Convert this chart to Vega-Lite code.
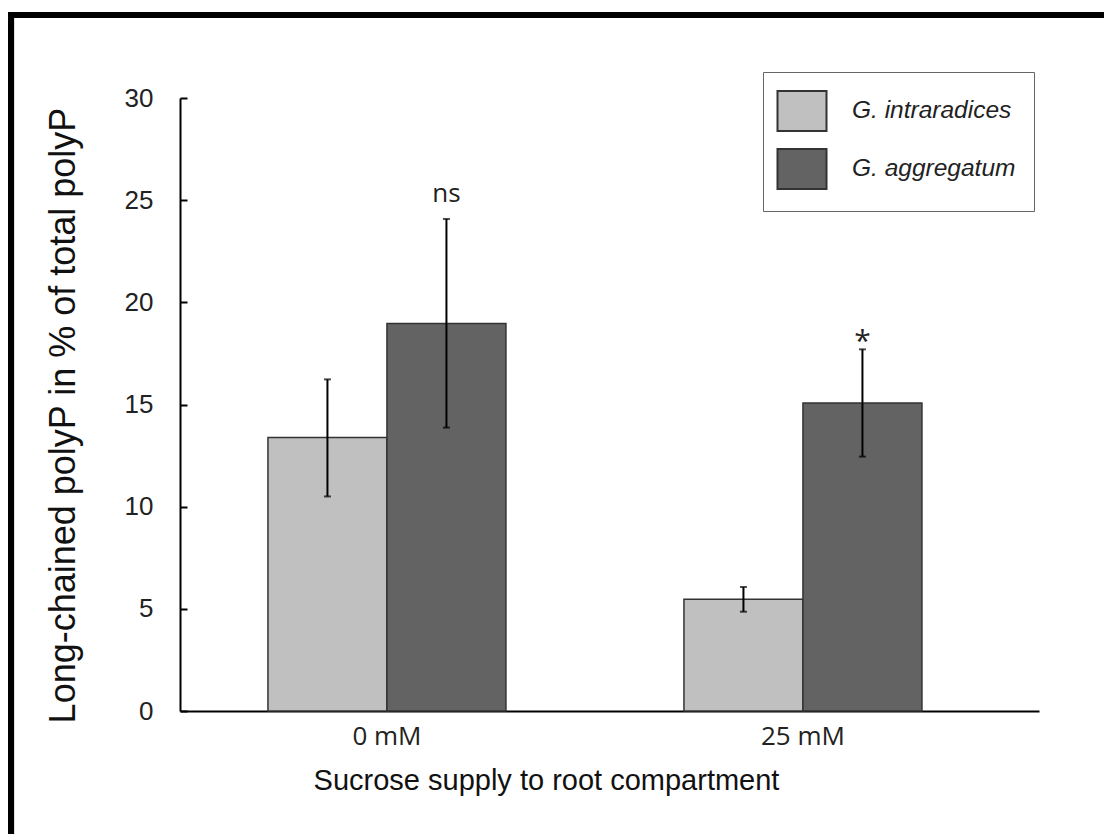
{
  "$schema": "https://vega.github.io/schema/vega-lite/v6.json",
  "width": 859,
  "height": 613,
  "autosize": {"type": "none"},
  "padding": {"left": 180, "top": 98, "right": 65, "bottom": 123},
  "background": "white",
  "config": {
    "view": {"stroke": null},
    "font": "Liberation Sans"
  },
  "data": {
    "values": [
      {"sucrose": "0 mM", "species": "G. intraradices", "mean": 13.38, "lo": 10.5, "hi": 16.23, "sig": ""},
      {"sucrose": "0 mM", "species": "G. aggregatum", "mean": 18.97, "lo": 13.87, "hi": 24.08, "sig": "ns"},
      {"sucrose": "25 mM", "species": "G. intraradices", "mean": 5.47, "lo": 4.86, "hi": 6.07, "sig": ""},
      {"sucrose": "25 mM", "species": "G. aggregatum", "mean": 15.07, "lo": 12.45, "hi": 17.7, "sig": "*"}
    ]
  },
  "layer": [
    {
      "layer": [
        {
          "mark": {"type": "bar", "stroke": "#333333", "strokeWidth": 1.5},
          "encoding": {
            "x": {
              "field": "sucrose", "type": "nominal", "sort": ["0 mM", "25 mM"],
              "scale": {"paddingInner": 0.4279, "paddingOuter": 0.2464, "align": 0.429},
              "title": "Sucrose supply to root compartment",
              "axis": {
                "ticks": false, "labelAngle": 0, "labelFont": "Open Sans", "labelFontSize": 26,
                "labelColor": "#222222", "labelPadding": 12, "domainColor": "black", "domainWidth": 2,
                "titleFont": "Liberation Sans", "titleFontSize": 29, "titleFontWeight": "normal",
                "titleColor": "#111111", "titleX": 366, "titlePadding": 17
              }
            },
            "xOffset": {
              "field": "species", "type": "nominal", "sort": ["G. intraradices", "G. aggregatum"],
              "scale": {"paddingInner": 0, "paddingOuter": 0}
            },
            "y": {
              "field": "mean", "type": "quantitative",
              "scale": {"domain": [0, 30], "nice": false},
              "title": "Long-chained polyP in % of total polyP",
              "axis": {
                "values": [0, 5, 10, 15, 20, 25, 30], "grid": false,
                "domainColor": "black", "domainWidth": 2, "tickColor": "black", "tickWidth": 2,
                "tickSize": -7, "labelPadding": 34, "labelFont": "Liberation Sans", "labelFontSize": 26,
                "labelColor": "#222222", "titleFont": "Liberation Sans", "titleFontSize": 36,
                "titleFontWeight": "normal", "titleColor": "#111111", "titlePadding": 42, "titleY": 317
              }
            },
            "color": {
              "field": "species", "type": "nominal",
              "scale": {"domain": ["G. intraradices", "G. aggregatum"], "range": ["#c0c0c0", "#636363"]},
              "legend": {
                "orient": "none", "legendX": 583, "legendY": -26, "title": null,
                "symbolType": "M-1.225,-1L1.225,-1L1.225,1L-1.225,1Z", "symbolSize": 1600,
                "symbolStrokeColor": "#333333", "symbolStrokeWidth": 2, "symbolOpacity": 1,
                "labelFont": "Liberation Sans", "labelFontStyle": "italic", "labelFontSize": 24.5,
                "labelColor": "#222222", "labelOffset": 29, "labelLimit": 400, "padding": 18, "rowPadding": 10,
                "strokeColor": "#666666", "fillColor": "white"
              }
            }
          }
        },
        {
          "mark": {"type": "rule", "color": "black", "strokeWidth": 2},
          "encoding": {
            "x": {"field": "sucrose", "type": "nominal", "sort": ["0 mM", "25 mM"]},
            "xOffset": {"field": "species", "type": "nominal", "sort": ["G. intraradices", "G. aggregatum"]},
            "y": {"field": "lo", "type": "quantitative"},
            "y2": {"field": "hi"}
          }
        },
        {
          "mark": {"type": "tick", "color": "black", "thickness": 2, "size": 7},
          "encoding": {
            "x": {"field": "sucrose", "type": "nominal", "sort": ["0 mM", "25 mM"]},
            "xOffset": {"field": "species", "type": "nominal", "sort": ["G. intraradices", "G. aggregatum"]},
            "y": {"field": "lo", "type": "quantitative"}
          }
        },
        {
          "mark": {"type": "tick", "color": "black", "thickness": 2, "size": 7},
          "encoding": {
            "x": {"field": "sucrose", "type": "nominal", "sort": ["0 mM", "25 mM"]},
            "xOffset": {"field": "species", "type": "nominal", "sort": ["G. intraradices", "G. aggregatum"]},
            "y": {"field": "hi", "type": "quantitative"}
          }
        },
        {
          "transform": [{"filter": "datum.sig == 'ns'"}],
          "mark": {"type": "text", "font": "Open Sans", "fontSize": 26, "color": "#222222", "baseline": "alphabetic", "dy": -17},
          "encoding": {
            "x": {"field": "sucrose", "type": "nominal", "sort": ["0 mM", "25 mM"]},
            "xOffset": {"field": "species", "type": "nominal", "sort": ["G. intraradices", "G. aggregatum"]},
            "y": {"field": "hi", "type": "quantitative"},
            "text": {"field": "sig"}
          }
        },
        {
          "transform": [{"filter": "datum.sig == '*'"}],
          "mark": {"type": "text", "font": "Open Sans", "fontSize": 30, "color": "#222222", "baseline": "alphabetic", "dy": 2},
          "encoding": {
            "x": {"field": "sucrose", "type": "nominal", "sort": ["0 mM", "25 mM"]},
            "xOffset": {"field": "species", "type": "nominal", "sort": ["G. intraradices", "G. aggregatum"]},
            "y": {"field": "hi", "type": "quantitative"},
            "text": {"field": "sig"}
          }
        }
      ]
    },
    {
      "layer": [
        {
          "mark": {"type": "rule", "color": "black", "strokeWidth": 6},
          "encoding": {
            "x": {"datum": -0.2, "type": "quantitative", "scale": {"domain": [0, 1], "nice": false, "zero": false}, "axis": null},
            "x2": {"datum": 1.2},
            "y": {"datum": 1.1354, "type": "quantitative", "scale": {"domain": [0, 1], "nice": false, "zero": false}, "axis": null}
          }
        },
        {
          "mark": {"type": "rule", "color": "black", "strokeWidth": 6},
          "encoding": {
            "x": {"datum": -0.1967, "type": "quantitative", "scale": {"domain": [0, 1], "nice": false, "zero": false}, "axis": null},
            "y": {"datum": 1.1403, "type": "quantitative", "scale": {"domain": [0, 1], "nice": false, "zero": false}, "axis": null},
            "y2": {"datum": -0.2333}
          }
        }
      ]
    }
  ],
  "resolve": {"scale": {"x": "independent", "y": "independent"}}
}
